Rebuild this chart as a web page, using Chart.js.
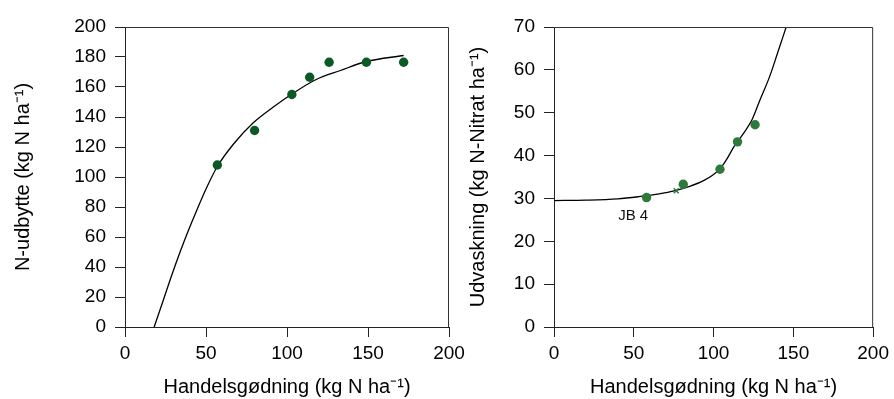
<!DOCTYPE html>
<html>
<head>
<meta charset="utf-8">
<script src="https://cdn.jsdelivr.net/npm/chart.js@4/dist/chart.umd.min.js"></script>
<style>
  html, body { margin: 0; padding: 0; background: #fff; }
  #wrap { position: relative; width: 894px; height: 399px; overflow: hidden; }
  .box { position: absolute; top: 0; height: 399px; }
  #left { left: 0; width: 470px; }
  #right { left: 450px; width: 444px; }
</style>
</head>
<body>
<div id="wrap">
  <div class="box" id="left"><canvas id="yieldChart"></canvas></div>
  <div class="box" id="right"><canvas id="leachChart"></canvas></div>
</div>
<script>
// left panel: N-udbytte
const yieldDose = [57, 80, 103, 114, 126, 149, 172];
const yieldValues = [108, 131, 155, 166.5, 176.5, 176.5, 176.5];
const yieldCurveX = [18, 24, 29, 34, 39, 44, 50, 57, 67, 79, 92, 104, 118, 133, 149, 172];
const yieldCurveY = [0, 19, 35, 50, 64, 77, 92, 107, 122, 136, 147, 156, 165, 171, 177, 181];

// right panel: udvaskning
const leachDose = [58, 81, 104, 115, 126];
const leachValues = [30.2, 33.3, 36.8, 43.2, 47.2];
const leachCurveX = [0, 20, 40, 53, 65, 76, 85, 94, 100, 104, 108, 113, 119, 124, 129, 135, 140, 145.5];
const leachCurveY = [29.5, 29.6, 29.9, 30.4, 31.0, 31.8, 32.8, 34.2, 35.6, 36.9, 39.0, 42.2, 45.3, 48.3, 52.9, 58.3, 63.8, 70];
const markX = [76.6];
const markY = [31.8];
const soilLabel = 'JB 4';
const soilLabelPos = { x: 49.6, y: 25.9 };

const xTitle = 'Handelsgødning (kg N ha⁻¹)';
const fontFamily = '"Liberation Sans", Arial, sans-serif';

Chart.defaults.font.family = fontFamily;
Chart.defaults.color = '#000';

const toXY = (xs, ys) => xs.map((x, i) => ({ x, y: ys[i] }));

// draws the top and right border of the plot box
const frame = {
  id: 'frame',
  afterDraw(chart) {
    const { ctx, chartArea: a } = chart;
    ctx.save();
    ctx.strokeStyle = '#333';
    ctx.lineWidth = 1;
    ctx.beginPath();
    ctx.moveTo(a.left, a.top + 0.5);
    ctx.lineTo(a.right - 0.5, a.top + 0.5);
    ctx.lineTo(a.right - 0.5, a.bottom);
    ctx.stroke();
    ctx.restore();
  },
};

const soilText = {
  id: 'soilText',
  afterDraw(chart) {
    if (chart.canvas.id !== 'leachChart') return;
    const { ctx, scales } = chart;
    ctx.save();
    ctx.font = '15px ' + fontFamily;
    ctx.fillStyle = '#111';
    ctx.textAlign = 'center';
    ctx.textBaseline = 'middle';
    ctx.fillText(soilLabel, scales.x.getPixelForValue(soilLabelPos.x), scales.y.getPixelForValue(soilLabelPos.y));
    ctx.restore();
  },
};

function axisX(titlePad) {
  return {
    type: 'linear',
    min: 0,
    max: 200,
    ticks: { stepSize: 50, font: { size: 19 }, padding: 5, maxRotation: 0 },
    grid: { drawOnChartArea: false, tickLength: 10, color: '#222' },
    border: { color: '#222', width: 1 },
    title: { display: true, text: xTitle, font: { size: 20 }, padding: { top: 0, bottom: titlePad } },
    afterFit: (scale) => { scale.height = 72; },
  };
}

function axisY(max, step, text, width, titlePad) {
  return {
    type: 'linear',
    min: 0,
    max,
    ticks: { stepSize: step, font: { size: 19 }, padding: 9 },
    grid: { drawOnChartArea: false, tickLength: 10, color: '#222' },
    border: { color: '#222', width: 1 },
    title: { display: true, text, font: { size: 20 }, padding: { top: titlePad, bottom: 0 } },
    afterFit: (scale) => { scale.width = width; },
  };
}

function curveSet(data) {
  return {
    type: 'line',
    data,
    borderColor: '#000',
    borderWidth: 1.3,
    pointRadius: 0,
    tension: 0.3,
    cubicInterpolationMode: 'monotone',
    order: 2,
  };
}

new Chart(document.getElementById('yieldChart'), {
  type: 'scatter',
  data: {
    datasets: [
      curveSet(toXY(yieldCurveX, yieldCurveY)),
      {
        data: toXY(yieldDose, yieldValues),
        backgroundColor: '#0b5a26',
        borderWidth: 0,
        pointRadius: 4.7,
        order: 1,
      },
    ],
  },
  options: {
    responsive: true,
    maintainAspectRatio: false,
    animation: false,
    layout: { padding: { top: 27, right: 21, left: 0, bottom: 0 } },
    plugins: { legend: { display: false }, tooltip: { enabled: false } },
    scales: {
      x: axisX(0),
      y: axisY(200, 20, 'N-udbytte (kg N ha⁻¹)', 125, 11),
    },
  },
  plugins: [frame],
});

new Chart(document.getElementById('leachChart'), {
  type: 'scatter',
  data: {
    datasets: [
      curveSet(toXY(leachCurveX, leachCurveY)),
      {
        data: toXY(leachDose, leachValues),
        backgroundColor: '#2e7a3c',
        borderWidth: 0,
        pointRadius: 4.7,
        order: 1,
      },
      {
        data: toXY(markX, markY),
        pointStyle: 'crossRot',
        borderColor: '#2e7a3c',
        borderWidth: 1.5,
        pointRadius: 3.5,
        order: 0,
      },
    ],
  },
  options: {
    responsive: true,
    maintainAspectRatio: false,
    animation: false,
    layout: { padding: { top: 27, right: 16, left: 0, bottom: 0 } },
    plugins: { legend: { display: false }, tooltip: { enabled: false } },
    scales: {
      x: axisX(0),
      y: axisY(70, 10, 'Udvaskning (kg N-Nitrat ha⁻¹)', 104, 16),
    },
  },
  plugins: [frame, soilText],
});
</script>
</body>
</html>
